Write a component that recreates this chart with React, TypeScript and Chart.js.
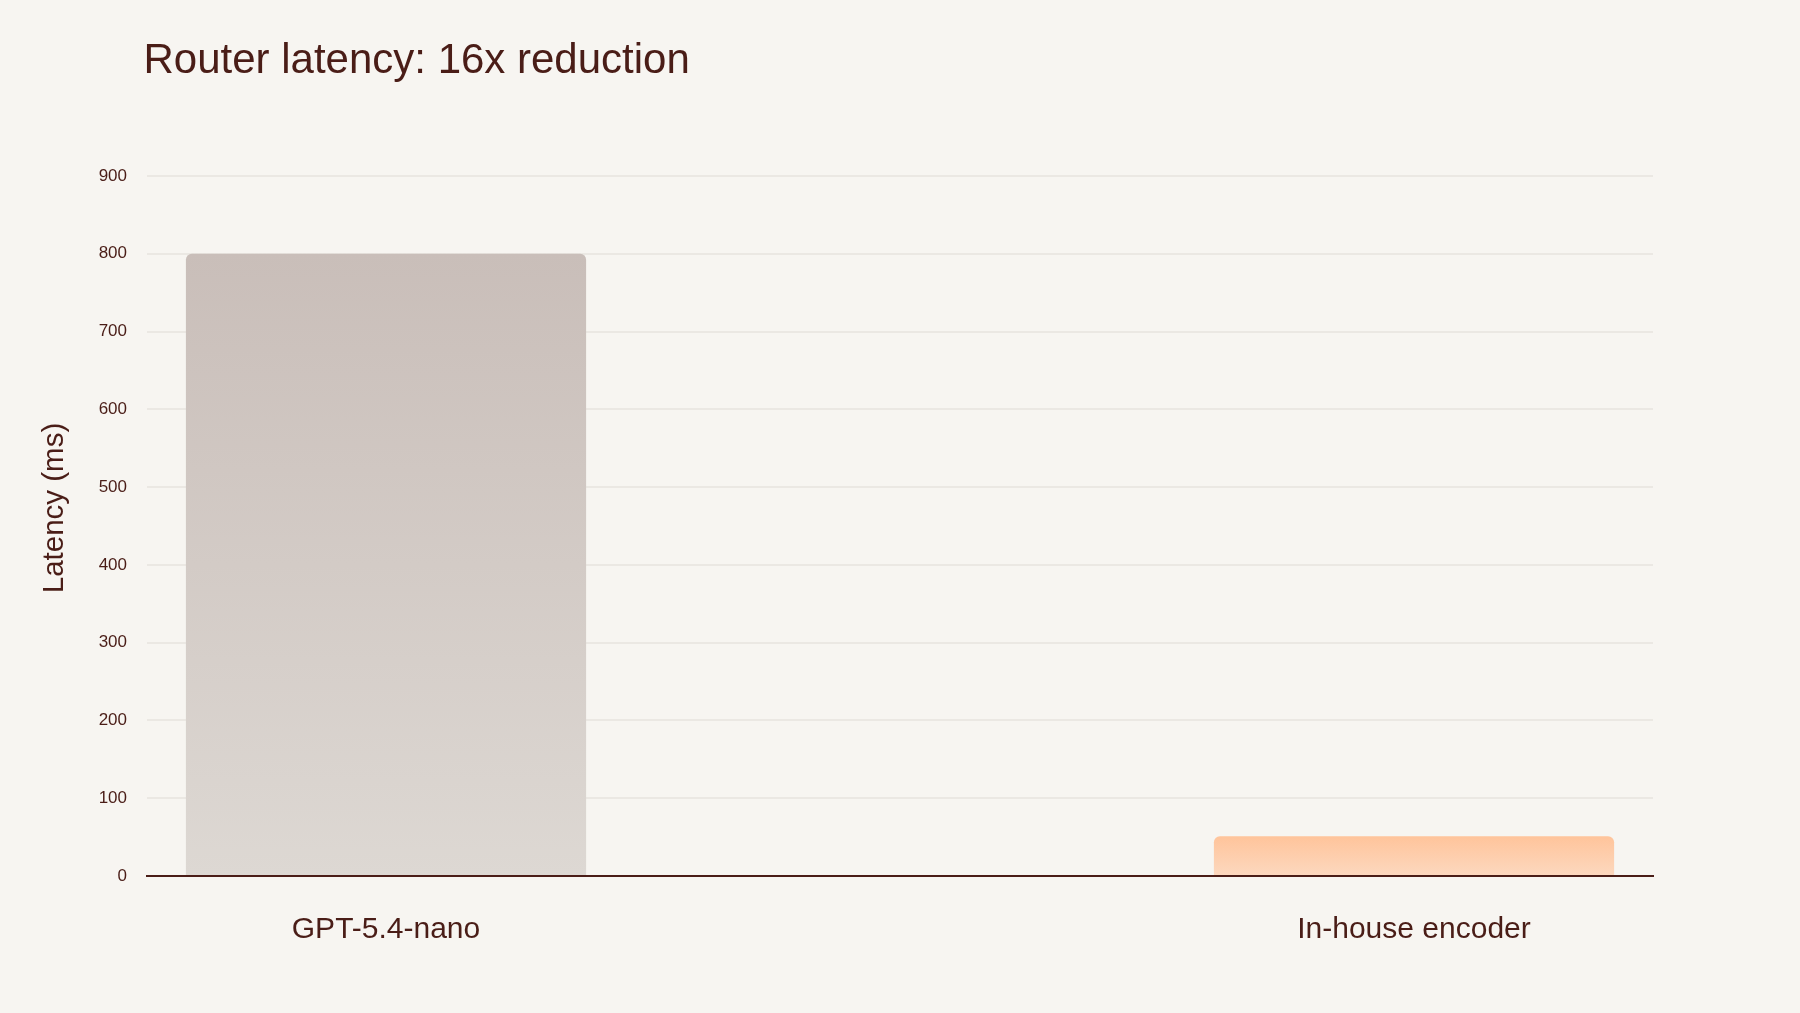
import { useEffect, useRef } from "react";
import { Chart, registerables } from "chart.js";

Chart.register(...registerables);

const TITLE = "Router latency: 16x reduction";
const Y_TITLE = "Latency (ms)";
const categories = ["GPT-5.4-nano", "In-house encoder"];
const latencyMs = [800, 51];
const yTickValues = [0, 100, 200, 300, 400, 500, 600, 700, 800, 900];
const barTopColors = ["#c9beb9", "#ffc49b"];
const barBottomColors = ["#ddd8d3", "#fcd8bf"];

const BG = "#f7f5f1";
const TEXT = "#4a1d17";
const GRID = "#ebe8e3";
const FAMILY = "'Liberation Sans', Arial, Helvetica, sans-serif";

const textPlugin = {
  id: "textPlugin",
  afterDraw(chart: any) {
    const { ctx, chartArea } = chart;
    ctx.save();
    ctx.fillStyle = TEXT;
    ctx.font = `42px ${FAMILY}`;
    ctx.textAlign = "left";
    ctx.textBaseline = "alphabetic";
    ctx.fillText(TITLE, chartArea.left - 3.5, 73.3);
    ctx.translate(62.6, 508);
    ctx.rotate(-Math.PI / 2);
    ctx.font = `29.5px ${FAMILY}`;
    ctx.textAlign = "center";
    ctx.fillText(Y_TITLE, 0, 0);
    ctx.restore();
  },
};

export default function App() {
  const canvasRef = useRef<HTMLCanvasElement | null>(null);

  useEffect(() => {
    const canvas = canvasRef.current;
    if (!canvas) return;
    const chart = new Chart(canvas, {
      type: "bar",
      data: {
        datasets: [
          {
            label: Y_TITLE,
            data: categories.map((_, i) => ({ x: i, y: latencyMs[i] })),
            backgroundColor: (ctx: any) => {
              const i = ctx.dataIndex ?? 0;
              const c = ctx.chart;
              if (!c.chartArea || !c.scales.y) return barTopColors[i];
              const yScale = c.scales.y;
              const top = yScale.getPixelForValue(latencyMs[i]);
              const bottom = yScale.getPixelForValue(0);
              const g = c.ctx.createLinearGradient(0, top, 0, bottom);
              g.addColorStop(0, barTopColors[i]);
              g.addColorStop(1, barBottomColors[i]);
              return g;
            },
            borderWidth: 0,
            borderRadius: 6,
            borderSkipped: "start",
            categoryPercentage: 1,
            barPercentage: 0.3893,
          } as any,
        ],
      },
      options: {
        animation: false,
        responsive: true,
        maintainAspectRatio: false,
        layout: { padding: { top: 176, right: 147, bottom: 0, left: 0 } },
        plugins: {
          legend: { display: false },
          tooltip: { enabled: false },
          title: { display: false },
        },
        scales: {
          x: {
            type: "linear",
            offset: false,
            min: -0.2325,
            max: 1.2325,
            afterBuildTicks: (s: any) => {
              s.ticks = categories.map((_, i) => ({ value: i }));
            },
            afterFit: (s: any) => {
              s.height = 137;
            },
            ticks: {
              autoSkip: false,
              maxRotation: 0,
              padding: 36,
              color: TEXT,
              font: { family: FAMILY, size: 30 },
              callback: (_v: any, index: number) => categories[index],
            },
            grid: { display: false, drawTicks: false },
            border: { display: true, color: TEXT, width: 2, z: 1 },
          },
          y: {
            type: "linear",
            min: 0,
            max: 900,
            afterBuildTicks: (s: any) => {
              s.ticks = yTickValues.map((v) => ({ value: v }));
            },
            afterFit: (s: any) => {
              s.width = 147;
            },
            ticks: {
              padding: 20,
              color: TEXT,
              font: { family: FAMILY, size: 17 },
            },
            grid: { color: GRID, lineWidth: 2, drawTicks: false },
            border: { display: false },
          },
        },
      } as any,
      plugins: [textPlugin],
    });
    return () => chart.destroy();
  }, []);

  return (
    <div
      style={{
        position: "fixed",
        left: 0,
        top: 0,
        width: 1800,
        height: 1013,
        background: BG,
      }}
    >
      <canvas ref={canvasRef} />
    </div>
  );
}
